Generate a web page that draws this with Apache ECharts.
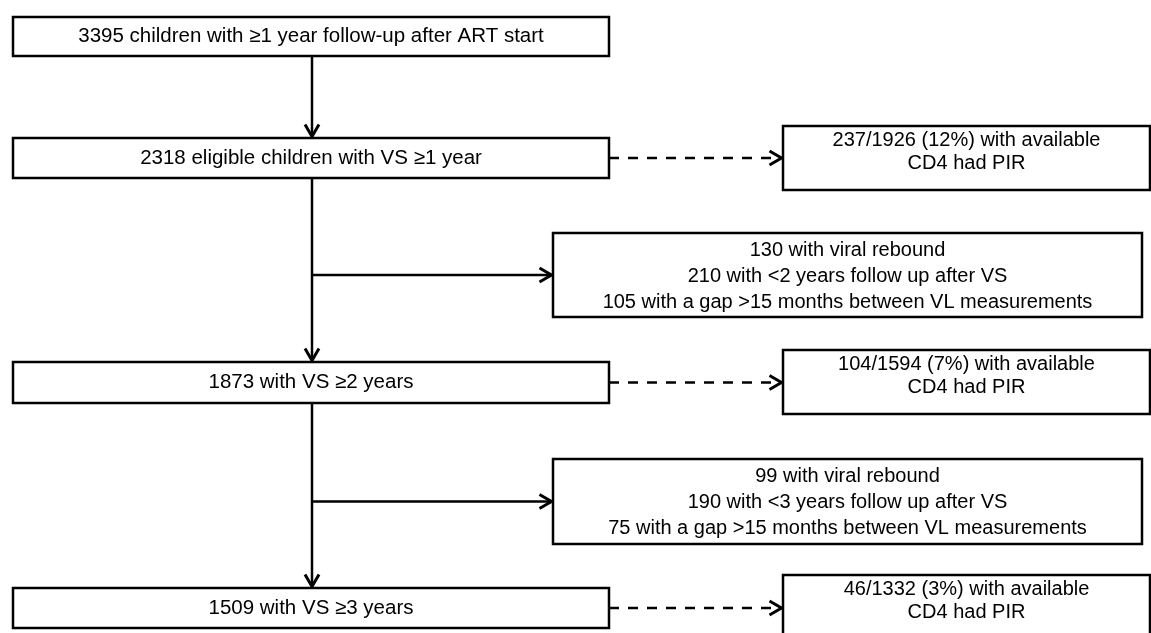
<!DOCTYPE html>
<html>
<head>
<meta charset="utf-8">
<script src="https://cdn.jsdelivr.net/npm/echarts@6/dist/echarts.min.js"></script>
<style>
  html, body { margin: 0; padding: 0; background: #fff; }
  #main { width: 1151px; height: 633px; }
</style>
</head>
<body>
<div id="main"></div>
<script>
// flow numbers
var stageCounts = [3395, 2318, 1873, 1509];
var stageText = ['children with \u22651 year follow-up after ART start', 'eligible children with VS \u22651 year', 'with VS \u22652 years', 'with VS \u22653 years'];
var reboundCounts = [130, 99];
var shortFollowCounts = [210, 190];
var shortFollowYears = [2, 3];
var gapCounts = [105, 75];
var pirCounts = [237, 104, 46];
var cd4Counts = [1926, 1594, 1332];
var pirPct = [12, 7, 3];

// layout (px units of the hidden axes)
var W = 1151, H = 633;
var mainX = [13, 609];
var mainY = [[17, 56], [138, 178], [362, 403], [588, 628]];
var exclX = [553, 1142];
var exclY = [[233, 317], [459, 544]];
var pirX = [783, 1150];
var pirY = [[126, 190], [350, 414], [575, 640]];
var trunkX = 312;

var font = 'Liberation Sans, Arial, sans-serif';

// box data: [x0, y0, x1, y1, kind]  kind 0 = main, 1 = exclusions, 2 = PIR
var boxes = [];
var boxLabels = [];
stageCounts.forEach(function (n, i) {
  boxes.push([mainX[0], mainY[i][0], mainX[1], mainY[i][1], 0]);
  boxLabels.push(n + ' ' + stageText[i]);
});
reboundCounts.forEach(function (n, i) {
  boxes.push([exclX[0], exclY[i][0], exclX[1], exclY[i][1], 1]);
  boxLabels.push(n + ' with viral rebound\n' +
    shortFollowCounts[i] + ' with <' + shortFollowYears[i] + ' years follow up after VS\n' +
    gapCounts[i] + ' with a gap >15 months between VL measurements');
});
pirCounts.forEach(function (n, i) {
  boxes.push([pirX[0], pirY[i][0], pirX[1], pirY[i][1], 2]);
  boxLabels.push(n + '/' + cd4Counts[i] + ' (' + pirPct[i] + '%) with available\nCD4 had PIR');
});

// connectors: [x0, y0, x1, y1, dashed]
var links = [];
for (var i = 0; i < 3; i++) {
  links.push([trunkX, mainY[i][1], trunkX, mainY[i + 1][0], 0]);
}
exclY.forEach(function (y) {
  var my = (y[0] + y[1]) / 2;
  links.push([trunkX, my, exclX[0], my, 0]);
});
mainY.slice(1).forEach(function (y) {
  var my = (y[0] + y[1]) / 2;
  links.push([mainX[1], my, pirX[0], my, 1]);
});

var chart = echarts.init(document.getElementById('main'));

function renderBox(params, api) {
  var p0 = api.coord([api.value(0), api.value(1)]);
  var p1 = api.coord([api.value(2), api.value(3)]);
  var kind = api.value(4);
  var cy = (p0[1] + p1[1]) / 2;
  var size = 20.5, lh = 21;
  if (kind === 1) { size = 20; lh = 26; cy += 1; }
  if (kind === 2) { size = 20; lh = 23; cy = p0[1] + 26; }
  return {
    type: 'group',
    children: [{
      type: 'rect',
      shape: { x: p0[0], y: p0[1], width: p1[0] - p0[0], height: p1[1] - p0[1] },
      style: { fill: '#fff', stroke: '#000', lineWidth: 2.5 }
    }, {
      type: 'text',
      x: (p0[0] + p1[0]) / 2,
      y: cy,
      style: {
        text: boxLabels[params.dataIndex],
        font: size + 'px ' + font,
        fill: '#000',
        align: 'center',
        verticalAlign: 'middle',
        lineHeight: lh
      }
    }]
  };
}

function renderLink(params, api) {
  var a = api.coord([api.value(0), api.value(1)]);
  var b = api.coord([api.value(2), api.value(3)]);
  var dashed = api.value(4) === 1;
  var dx = b[0] - a[0], dy = b[1] - a[1];
  var len = Math.sqrt(dx * dx + dy * dy);
  var ux = dx / len, uy = dy / len;
  var hl = 12, hw = 7;
  var tip = [b[0] - ux * 1.5, b[1] - uy * 1.5];
  var bx = tip[0] - ux * hl, by = tip[1] - uy * hl;
  return {
    type: 'group',
    children: [{
      type: 'line',
      shape: { x1: a[0], y1: a[1], x2: tip[0], y2: tip[1] },
      style: { stroke: '#000', lineWidth: 2.5, lineDash: dashed ? [10, 9] : null }
    }, {
      type: 'polyline',
      shape: { points: [[bx - uy * hw, by + ux * hw], tip, [bx + uy * hw, by - ux * hw]] },
      style: { stroke: '#000', lineWidth: 3, fill: null }
    }]
  };
}

var option = {
  animation: false,
  grid: { left: 0, right: 0, top: 0, bottom: 0 },
  xAxis: { type: 'value', min: 0, max: W, show: false },
  yAxis: { type: 'value', min: 0, max: H, inverse: true, show: false },
  series: [{
    type: 'custom',
    clip: false,
    renderItem: renderLink,
    data: links
  }, {
    type: 'custom',
    clip: false,
    renderItem: renderBox,
    data: boxes
  }]
};

chart.setOption(option);
</script>
</body>
</html>
